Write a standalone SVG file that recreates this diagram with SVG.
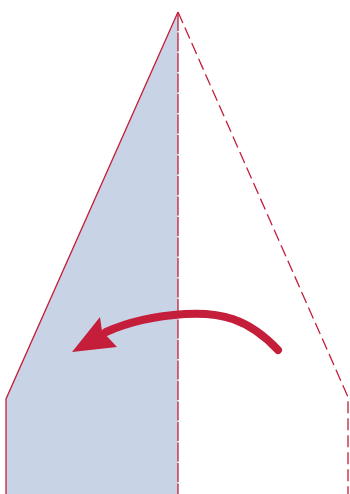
<svg xmlns="http://www.w3.org/2000/svg" width="350" height="494" viewBox="0 0 350 494">
<style>
.edge{fill:none;stroke:#c41e3a;stroke-width:1.3}
.dash{stroke-dasharray:12 5}
.mid{stroke-dasharray:19 1.5}
</style>
<rect width="350" height="494" fill="#fff"/>
<g id="left-flap">
<path d="M178,12 L6,399 L6,494 L178,494 Z" fill="#c9d3e6"/>
<path class="edge" d="M178,12 L6,399 L6,494"/>
</g>
<g id="right-flap">
<path class="edge dash" d="M178,12 L348,397 L348,494"/>
</g>
<g id="connectors">
<line class="edge mid" x1="178" y1="12" x2="178" y2="494"/>
<path d="M278,350 C248,318 220,312 185,314 C155,316 128,322 106,332" fill="none" stroke="#c41e3a" stroke-width="8" stroke-linecap="round"/>
<path d="M72,352 L100,317 L102,331 L117,347 Z" fill="#c41e3a"/>
</g>
</svg>
